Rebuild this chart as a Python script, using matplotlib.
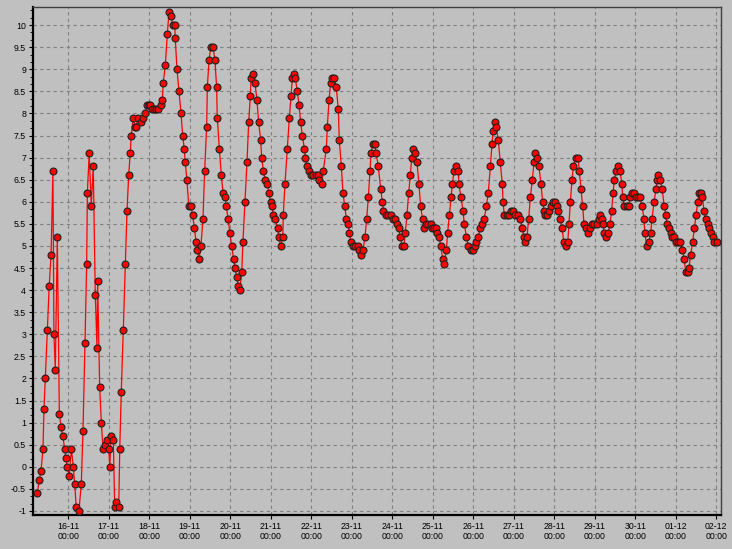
import datetime as dt
import numpy as np
import matplotlib
matplotlib.use("Agg")
import matplotlib.pyplot as plt
import matplotlib.dates as mdates
from matplotlib.ticker import MultipleLocator, AutoMinorLocator

# hours since 15-11 00:00 and measured values
hours = [
    5.6, 6.8, 7.8, 9.0, 9.6, 10.4, 11.6, 12.7, 13.8, 14.9, 15.5, 16.3, 17.5, 18.7, 19.7, 20.7,
    21.9, 22.5, 23.4, 24.6, 25.8, 27.0, 27.8, 28.7, 30.3, 31.7, 32.7, 33.9, 34.9, 35.3, 36.4,
    37.6, 38.8, 40.0, 41.0, 41.4, 42.6, 43.6, 44.6, 45.6, 46.9, 48.0, 48.6, 49.3, 50.7, 51.5,
    52.4, 53.9, 54.5, 55.4, 56.6, 57.8, 58.8, 59.8, 60.7, 61.3, 62.5, 63.6, 64.3, 65.1, 67.3,
    68.4, 69.6, 70.6, 71.6, 72.6, 73.7, 74.8, 75.9, 77.3, 78.9, 79.7, 80.3, 81.5, 82.7, 83.7,
    84.7, 85.9, 87.1, 87.4, 88.4, 89.6, 90.8, 91.8, 92.7, 93.3, 94.3, 95.4, 96.7, 97.7, 98.7,
    99.7, 100.4, 101.5, 102.6, 103.8, 104.8, 106.0, 106.4, 107.4, 108.4, 109.8, 110.9, 111.9,
    112.3, 113.5, 114.7, 115.7, 116.9, 117.6, 118.8, 119.7, 120.8, 122.0, 122.8, 123.8, 124.7,
    125.6, 126.8, 127.5, 128.7, 129.9, 130.9, 131.9, 132.3, 133.5, 134.6, 135.8, 136.8, 138.0,
    138.6, 139.6, 140.7, 141.9, 142.9, 143.9, 144.9, 145.5, 146.7, 148.1, 148.7, 149.9, 151.1,
    151.4, 152.4, 153.8, 155.0, 156.0, 156.8, 157.8, 158.5, 159.7, 160.7, 161.7, 162.7, 163.9,
    164.5, 165.5, 166.5, 167.7, 169.2, 170.8, 171.8, 172.7, 174.2, 175.1, 176.9, 177.5, 178.5,
    179.5, 180.5, 181.6, 182.8, 184.0, 184.6, 185.8, 186.8, 187.8, 188.8, 189.8, 190.5, 191.5,
    192.9, 194.1, 195.5, 196.5, 197.5, 198.6, 199.8, 200.8, 201.8, 202.8, 203.4, 204.4, 205.6,
    206.4, 207.7, 209.1, 210.1, 210.7, 212.1, 213.6, 215.1, 216.2, 217.6, 218.6, 219.8, 220.7,
    221.9, 222.9, 223.7, 224.7, 225.7, 226.7, 227.5, 228.4, 229.3, 230.6, 231.8, 232.8, 234.0,
    235.0, 236.0, 237.3, 238.8, 239.7, 240.7, 241.9, 242.7, 243.7, 244.7, 245.9, 246.8, 248.0,
    248.8, 249.8, 250.8, 251.6, 252.6, 253.8, 255.1, 255.5, 256.7, 257.9, 258.7, 259.9, 261.0,
    262.5, 263.8, 264.8, 265.6, 267.0, 268.0, 269.3, 270.5, 271.7, 272.9, 274.1, 275.1, 275.7,
    276.7, 277.6, 278.8, 280.0, 281.2, 281.6, 282.4, 283.8, 285.2, 286.3, 287.4, 288.7, 290.7,
    291.9, 293.0, 294.1, 294.6, 295.8, 296.8, 297.8, 299.0, 300.0, 300.8, 301.8, 302.9, 304.1,
    305.1, 305.9, 306.7, 307.7, 308.9, 310.1, 311.2, 312.4, 313.6, 314.4, 315.6, 316.6, 317.6,
    318.9, 320.0, 320.7, 321.5, 322.5, 323.3, 324.7, 326.1, 326.8, 327.8, 328.8, 329.6, 330.6,
    331.8, 333.2, 334.3, 335.7, 337.1, 338.3, 339.3, 340.3, 341.0, 341.6, 342.6, 344.0, 345.0,
    346.0, 346.8, 347.6, 348.6, 349.9, 350.9, 352.1, 352.5, 353.5, 354.9, 356.1, 356.9, 358.1,
    359.2, 360.4, 361.6, 362.8, 364.0, 365.2, 365.6, 366.8, 368.0, 369.1, 369.9, 371.1, 372.3,
    372.9, 373.6, 374.7, 375.8, 377.2, 378.2, 378.6, 379.8, 381.0, 381.9, 383.1, 384.3, 385.5,
    386.5, 387.9, 389.0, 389.9, 391.1, 391.8, 392.8, 394.0, 395.0, 396.0, 397.0, 397.8, 398.8,
    399.7, 400.7, 401.9, 402.9, 403.9, 404.7, 405.9, 406.8, 408.4,
]
values = [
    -0.6, -0.3, -0.1, 0.4, 1.3, 2.0, 3.1, 4.1, 4.8, 6.7, 3.0, 2.2, 5.2, 1.2, 0.9, 0.7,
    0.4, 0.2, 0.0, -0.2, 0.4, 0.0, -0.4, -0.9, -1.0, -0.4, 0.8, 2.8, 4.6, 6.2, 7.1,
    5.9, 6.8, 3.9, 2.7, 4.2, 1.8, 1.0, 0.4, 0.5, 0.6, 0.4, 0.0, 0.7, 0.6, -0.9,
    -0.8, -0.9, 0.4, 1.7, 3.1, 4.6, 5.8, 6.6, 7.1, 7.5, 7.9, 7.7, 7.7, 7.9, 7.8,
    7.9, 8.0, 8.2, 8.2, 8.2, 8.1, 8.1, 8.1, 8.1, 8.2, 8.3, 8.7, 9.1, 9.8, 10.3,
    10.2, 10.0, 10.0, 9.7, 9.0, 8.5, 8.0, 7.5, 7.2, 6.9, 6.5, 5.9, 5.9, 5.7, 5.4,
    5.1, 4.9, 4.7, 5.0, 5.6, 6.7, 7.7, 8.6, 9.2, 9.5, 9.5, 9.2, 8.6,
    7.9, 7.2, 6.6, 6.2, 6.1, 5.9, 5.6, 5.3, 5.0, 4.7, 4.5, 4.3, 4.1,
    4.0, 4.4, 5.1, 6.0, 6.9, 7.8, 8.4, 8.8, 8.9, 8.7, 8.3, 7.8, 7.4,
    7.0, 6.7, 6.5, 6.4, 6.2, 6.0, 5.9, 5.7, 5.6, 5.4, 5.2, 5.0, 5.2,
    5.7, 6.4, 7.2, 7.9, 8.4, 8.8, 8.9, 8.8, 8.5, 8.2, 7.8, 7.5, 7.2,
    7.0, 6.8, 6.7, 6.6, 6.6, 6.6, 6.6, 6.5, 6.4, 6.7, 7.2, 7.7, 8.3,
    8.7, 8.8, 8.8, 8.6, 8.1, 7.4, 6.8, 6.2, 5.9, 5.6, 5.5, 5.3, 5.1,
    5.0, 5.0, 5.0, 4.9, 4.8, 4.9, 5.2, 5.6, 6.1, 6.7, 7.1, 7.3, 7.3,
    7.1, 6.8, 6.3, 6.0, 5.8, 5.7, 5.7, 5.7, 5.6, 5.6, 5.5, 5.4, 5.2,
    5.0, 5.0, 5.3, 5.7, 6.2, 6.6, 7.0, 7.2, 7.1, 6.9, 6.4, 5.9, 5.6,
    5.4, 5.5, 5.5, 5.5, 5.4, 5.4, 5.4, 5.3, 5.2, 5.0, 4.7, 4.6, 4.9,
    5.3, 5.7, 6.1, 6.4, 6.7, 6.8, 6.7, 6.4, 6.1, 5.8, 5.5, 5.2, 5.0,
    4.9, 4.9, 5.0, 5.1, 5.2, 5.4, 5.5, 5.6, 5.9, 6.2, 6.8, 7.3, 7.6,
    7.8, 7.7, 7.4, 6.9, 6.4, 6.0, 5.7, 5.7, 5.7, 5.8, 5.8, 5.7, 5.7,
    5.6, 5.4, 5.2, 5.1, 5.2, 5.6, 6.1, 6.5, 6.9, 7.1, 7.0, 6.8, 6.4,
    6.0, 5.8, 5.7, 5.7, 5.8, 5.9, 6.0, 6.0, 5.9, 5.8, 5.6, 5.4, 5.1,
    5.0, 5.1, 5.5, 6.0, 6.5, 6.8, 7.0, 7.0, 6.7, 6.3, 5.9, 5.5, 5.4,
    5.3, 5.4, 5.5, 5.5, 5.5, 5.6, 5.7, 5.6, 5.5, 5.3, 5.2, 5.3, 5.5,
    5.8, 6.2, 6.5, 6.7, 6.8, 6.7, 6.4, 6.1, 5.9, 5.9, 5.9, 6.1, 6.2,
    6.2, 6.1, 6.1, 6.1, 5.9, 5.6, 5.3, 5.0, 5.1, 5.3, 5.6, 6.0, 6.3,
    6.5, 6.6, 6.5, 6.3, 5.9, 5.7, 5.5, 5.4, 5.3, 5.2, 5.2, 5.1, 5.1,
    5.1, 4.9, 4.7, 4.4, 4.4, 4.5, 4.8, 5.1, 5.4, 5.7, 6.0, 6.2, 6.2,
    6.1, 5.8, 5.6, 5.5, 5.4, 5.3, 5.2, 5.1, 5.1,
]

start = dt.datetime(2008, 11, 15)
times = [start + dt.timedelta(hours=h) for h in hours]

bg = "#c0c0c0"
fig = plt.figure(figsize=(7.32, 5.49), dpi=100, facecolor=bg)
ax = fig.add_axes([0.0451, 0.062, 0.9399, 0.9253])
ax.set_facecolor(bg)

ax.plot(times, values, color="red", lw=0.9, marker="o", ms=5.0,
        mfc="red", mec="#202020", mew=0.8, zorder=3)

ax.set_xlim(start + dt.timedelta(hours=3.1), start + dt.timedelta(hours=410.8))
ax.set_ylim(-1.09, 10.41)

ax.xaxis.set_major_locator(mdates.DayLocator())
ax.xaxis.set_major_formatter(mdates.DateFormatter("%d-%m\n%H:%M"))
ax.yaxis.set_major_locator(MultipleLocator(0.5))
ax.yaxis.set_minor_locator(AutoMinorLocator(3))
ax.yaxis.set_major_formatter(plt.FuncFormatter(lambda v, p: f"{v:g}"))

ax.grid(True, which="major", color="#808080", linestyle=(0, (3, 3)), lw=0.8)
ax.tick_params(axis="both", which="major", labelsize=6.3, length=3, width=0.8, pad=2)
ax.tick_params(axis="y", which="minor", length=2, width=0.6)
for lab in ax.get_xticklabels() + ax.get_yticklabels():
    lab.set_fontfamily("Liberation Sans")

for side in ["left", "bottom"]:
    ax.spines[side].set_linewidth(1.6)
    ax.spines[side].set_color("black")
for side in ["top", "right"]:
    ax.spines[side].set_linewidth(1.0)
    ax.spines[side].set_color("#404040")

fig.savefig("out.png", dpi=100, facecolor=bg)
